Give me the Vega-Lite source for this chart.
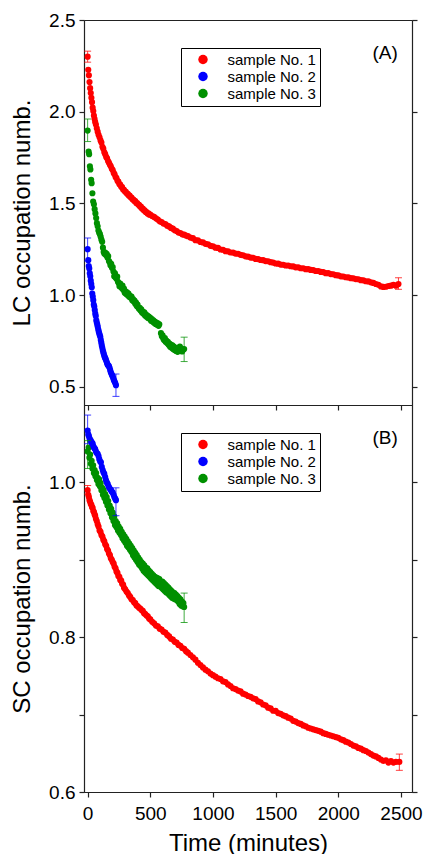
{
"$schema": "https://vega.github.io/schema/vega-lite/v6.json",
"background": "white",
"padding": {"left": 10, "top": 10, "right": 5, "bottom": 0},
"spacing": 0,
"bounds": "flush",
"config": {
  "font": "Liberation Sans",
  "view": {"stroke": "#222", "strokeWidth": 1},
  "axis": {"domainColor": "#222", "tickColor": "#222", "labelColor": "#000", "titleColor": "#000", "labelFont": "Liberation Sans", "titleFont": "Liberation Sans", "labelFontSize": 19, "titleFontSize": 24, "titleFontWeight": "normal", "tickSize": 5, "grid": false, "labelPadding": 4, "labelFlush": false, "domainWidth": 1.2, "tickWidth": 1.2},
  "legend": {"orient": "none", "legendX": 97, "legendY": 28, "strokeColor": "#000", "strokeWidth": 1, "fillColor": "#fff", "padding": 4, "symbolType": "circle", "symbolSize": 90, "symbolStrokeWidth": 0, "symbolOpacity": 1, "labelFontSize": 15, "labelFont": "Liberation Sans", "labelColor": "#000", "labelOffset": 17, "symbolOffset": 10.5, "rowPadding": 1}
},
"datasets": {
"lc": [
{"s":"1","t":0,"v":2.30},{"s":"1","t":5,"v":2.228},{"s":"1","t":10,"v":2.198},{"s":"1","t":15,"v":2.162},{"s":"1","t":20,"v":2.128},{"s":"1","t":25,"v":2.102},{"s":"1","t":30,"v":2.076},{"s":"1","t":35,"v":2.052},{"s":"1","t":40,"v":2.022},{"s":"1","t":45,"v":2.003},{"s":"1","t":50,"v":1.979},{"s":"1","t":55,"v":1.961},{"s":"1","t":60,"v":1.944},{"s":"1","t":66,"v":1.93},{"s":"1","t":73,"v":1.909},{"s":"1","t":80,"v":1.891},{"s":"1","t":87,"v":1.874},{"s":"1","t":95,"v":1.86},{"s":"1","t":103,"v":1.843},{"s":"1","t":110,"v":1.832},{"s":"1","t":118,"v":1.808},{"s":"1","t":125,"v":1.798},{"s":"1","t":133,"v":1.778},{"s":"1","t":140,"v":1.768},{"s":"1","t":148,"v":1.753},{"s":"1","t":155,"v":1.746},{"s":"1","t":163,"v":1.731},{"s":"1","t":170,"v":1.722},{"s":"1","t":178,"v":1.71},{"s":"1","t":185,"v":1.702},{"s":"1","t":193,"v":1.688},{"s":"1","t":200,"v":1.682},{"s":"1","t":208,"v":1.666},{"s":"1","t":215,"v":1.658},{"s":"1","t":223,"v":1.643},{"s":"1","t":230,"v":1.638},{"s":"1","t":238,"v":1.623},{"s":"1","t":245,"v":1.618},{"s":"1","t":253,"v":1.605},{"s":"1","t":260,"v":1.602},{"s":"1","t":268,"v":1.59},{"s":"1","t":275,"v":1.588},{"s":"1","t":283,"v":1.576},{"s":"1","t":290,"v":1.574},{"s":"1","t":298,"v":1.564},{"s":"1","t":305,"v":1.563},{"s":"1","t":313,"v":1.553},{"s":"1","t":320,"v":1.552},{"s":"1","t":328,"v":1.543},{"s":"1","t":335,"v":1.542},{"s":"1","t":343,"v":1.533},{"s":"1","t":350,"v":1.532},{"s":"1","t":358,"v":1.522},{"s":"1","t":365,"v":1.521},{"s":"1","t":373,"v":1.513},{"s":"1","t":380,"v":1.512},{"s":"1","t":388,"v":1.502},{"s":"1","t":395,"v":1.502},{"s":"1","t":403,"v":1.493},{"s":"1","t":410,"v":1.492},{"s":"1","t":418,"v":1.483},{"s":"1","t":425,"v":1.482},{"s":"1","t":433,"v":1.472},{"s":"1","t":440,"v":1.472},{"s":"1","t":448,"v":1.462},{"s":"1","t":455,"v":1.462},{"s":"1","t":463,"v":1.453},{"s":"1","t":470,"v":1.452},{"s":"1","t":478,"v":1.444},{"s":"1","t":485,"v":1.445},{"s":"1","t":493,"v":1.438},{"s":"1","t":500,"v":1.439},{"s":"1","t":515,"v":1.431},{"s":"1","t":530,"v":1.426},{"s":"1","t":545,"v":1.418},{"s":"1","t":560,"v":1.412},{"s":"1","t":575,"v":1.402},{"s":"1","t":590,"v":1.398},{"s":"1","t":605,"v":1.39},{"s":"1","t":620,"v":1.387},{"s":"1","t":635,"v":1.378},{"s":"1","t":650,"v":1.374},{"s":"1","t":665,"v":1.366},{"s":"1","t":680,"v":1.362},{"s":"1","t":695,"v":1.353},{"s":"1","t":710,"v":1.349},{"s":"1","t":725,"v":1.341},{"s":"1","t":740,"v":1.338},{"s":"1","t":755,"v":1.331},{"s":"1","t":770,"v":1.329},{"s":"1","t":785,"v":1.324},{"s":"1","t":800,"v":1.321},{"s":"1","t":820,"v":1.313},{"s":"1","t":840,"v":1.31},{"s":"1","t":860,"v":1.299},{"s":"1","t":880,"v":1.298},{"s":"1","t":900,"v":1.289},{"s":"1","t":920,"v":1.287},{"s":"1","t":940,"v":1.279},{"s":"1","t":960,"v":1.277},{"s":"1","t":980,"v":1.268},{"s":"1","t":1000,"v":1.266},{"s":"1","t":1020,"v":1.258},{"s":"1","t":1040,"v":1.257},{"s":"1","t":1060,"v":1.248},{"s":"1","t":1080,"v":1.247},{"s":"1","t":1100,"v":1.239},{"s":"1","t":1120,"v":1.238},{"s":"1","t":1140,"v":1.232},{"s":"1","t":1160,"v":1.231},{"s":"1","t":1180,"v":1.226},{"s":"1","t":1200,"v":1.225},{"s":"1","t":1220,"v":1.219},{"s":"1","t":1240,"v":1.217},{"s":"1","t":1260,"v":1.211},{"s":"1","t":1280,"v":1.209},{"s":"1","t":1300,"v":1.204},{"s":"1","t":1320,"v":1.203},{"s":"1","t":1340,"v":1.197},{"s":"1","t":1360,"v":1.196},{"s":"1","t":1380,"v":1.191},{"s":"1","t":1400,"v":1.19},{"s":"1","t":1420,"v":1.185},{"s":"1","t":1440,"v":1.184},{"s":"1","t":1460,"v":1.179},{"s":"1","t":1480,"v":1.177},{"s":"1","t":1500,"v":1.172},{"s":"1","t":1520,"v":1.171},{"s":"1","t":1540,"v":1.166},{"s":"1","t":1560,"v":1.165},{"s":"1","t":1580,"v":1.161},{"s":"1","t":1600,"v":1.161},{"s":"1","t":1620,"v":1.157},{"s":"1","t":1640,"v":1.156},{"s":"1","t":1660,"v":1.151},{"s":"1","t":1680,"v":1.151},{"s":"1","t":1700,"v":1.146},{"s":"1","t":1720,"v":1.146},{"s":"1","t":1740,"v":1.141},{"s":"1","t":1760,"v":1.141},{"s":"1","t":1780,"v":1.137},{"s":"1","t":1800,"v":1.136},{"s":"1","t":1820,"v":1.131},{"s":"1","t":1840,"v":1.131},{"s":"1","t":1860,"v":1.126},{"s":"1","t":1880,"v":1.125},{"s":"1","t":1900,"v":1.119},{"s":"1","t":1920,"v":1.119},{"s":"1","t":1940,"v":1.114},{"s":"1","t":1960,"v":1.113},{"s":"1","t":1980,"v":1.108},{"s":"1","t":2000,"v":1.107},{"s":"1","t":2020,"v":1.102},{"s":"1","t":2040,"v":1.101},{"s":"1","t":2060,"v":1.097},{"s":"1","t":2080,"v":1.096},{"s":"1","t":2100,"v":1.092},{"s":"1","t":2120,"v":1.091},{"s":"1","t":2140,"v":1.087},{"s":"1","t":2160,"v":1.086},{"s":"1","t":2180,"v":1.081},{"s":"1","t":2200,"v":1.08},{"s":"1","t":2220,"v":1.075},{"s":"1","t":2240,"v":1.074},{"s":"1","t":2260,"v":1.069},{"s":"1","t":2280,"v":1.066},{"s":"1","t":2300,"v":1.06},{"s":"1","t":2320,"v":1.056},{"s":"1","t":2340,"v":1.047},{"s":"1","t":2360,"v":1.044},{"s":"1","t":2380,"v":1.045},{"s":"1","t":2400,"v":1.049},{"s":"1","t":2420,"v":1.051},{"s":"1","t":2440,"v":1.055},{"s":"1","t":2460,"v":1.051},{"s":"1","t":2480,"v":1.06},
{"s":"3","t":0,"v":1.897},{"s":"3","t":8,"v":1.782},{"s":"3","t":12,"v":1.768},{"s":"3","t":18,"v":1.702},{"s":"3","t":22,"v":1.685},{"s":"3","t":28,"v":1.628},{"s":"3","t":32,"v":1.61},{"s":"3","t":38,"v":1.555},{"s":"3","t":44,"v":1.51},{"s":"3","t":50,"v":1.495},{"s":"3","t":56,"v":1.468},{"s":"3","t":62,"v":1.445},{"s":"3","t":68,"v":1.42},{"s":"3","t":74,"v":1.392},{"s":"3","t":80,"v":1.375},{"s":"3","t":86,"v":1.352},{"s":"3","t":92,"v":1.34},{"s":"3","t":98,"v":1.332},{"s":"3","t":104,"v":1.318},{"s":"3","t":110,"v":1.302},{"s":"3","t":116,"v":1.29},{"s":"3","t":122,"v":1.258},{"s":"3","t":128,"v":1.235},{"s":"3","t":134,"v":1.225},{"s":"3","t":140,"v":1.232},{"s":"3","t":146,"v":1.218},{"s":"3","t":152,"v":1.225},{"s":"3","t":158,"v":1.205},{"s":"3","t":164,"v":1.212},{"s":"3","t":170,"v":1.185},{"s":"3","t":176,"v":1.178},{"s":"3","t":182,"v":1.162},{"s":"3","t":188,"v":1.17},{"s":"3","t":194,"v":1.148},{"s":"3","t":200,"v":1.152},{"s":"3","t":206,"v":1.128},{"s":"3","t":212,"v":1.102},{"s":"3","t":218,"v":1.118},{"s":"3","t":224,"v":1.095},{"s":"3","t":230,"v":1.088},{"s":"3","t":236,"v":1.1},{"s":"3","t":242,"v":1.072},{"s":"3","t":248,"v":1.065},{"s":"3","t":254,"v":1.048},{"s":"3","t":260,"v":1.062},{"s":"3","t":266,"v":1.045},{"s":"3","t":272,"v":1.038},{"s":"3","t":278,"v":1.052},{"s":"3","t":284,"v":1.028},{"s":"3","t":290,"v":1.035},{"s":"3","t":296,"v":1.012},{"s":"3","t":302,"v":1.02},{"s":"3","t":308,"v":1.005},{"s":"3","t":314,"v":1.015},{"s":"3","t":320,"v":0.998},{"s":"3","t":326,"v":1.008},{"s":"3","t":332,"v":0.99},{"s":"3","t":338,"v":0.995},{"s":"3","t":344,"v":0.985},{"s":"3","t":350,"v":0.992},{"s":"3","t":356,"v":0.972},{"s":"3","t":362,"v":0.978},{"s":"3","t":368,"v":0.965},{"s":"3","t":374,"v":0.97},{"s":"3","t":380,"v":0.952},{"s":"3","t":386,"v":0.958},{"s":"3","t":392,"v":0.94},{"s":"3","t":398,"v":0.948},{"s":"3","t":404,"v":0.932},{"s":"3","t":410,"v":0.925},{"s":"3","t":416,"v":0.93},{"s":"3","t":422,"v":0.915},{"s":"3","t":428,"v":0.922},{"s":"3","t":434,"v":0.905},{"s":"3","t":440,"v":0.91},{"s":"3","t":446,"v":0.898},{"s":"3","t":452,"v":0.905},{"s":"3","t":458,"v":0.888},{"s":"3","t":464,"v":0.895},{"s":"3","t":470,"v":0.882},{"s":"3","t":476,"v":0.888},{"s":"3","t":482,"v":0.875},{"s":"3","t":488,"v":0.882},{"s":"3","t":494,"v":0.87},{"s":"3","t":500,"v":0.876},{"s":"3","t":506,"v":0.86},{"s":"3","t":512,"v":0.868},{"s":"3","t":518,"v":0.855},{"s":"3","t":524,"v":0.862},{"s":"3","t":530,"v":0.848},{"s":"3","t":536,"v":0.855},{"s":"3","t":542,"v":0.842},{"s":"3","t":548,"v":0.85},{"s":"3","t":554,"v":0.838},{"s":"3","t":560,"v":0.845},{"s":"3","t":566,"v":0.832},{"s":"3","t":572,"v":0.84},{"s":"3","t":585,"v":0.792},{"s":"3","t":592,"v":0.775},{"s":"3","t":598,"v":0.78},{"s":"3","t":604,"v":0.762},{"s":"3","t":610,"v":0.755},{"s":"3","t":616,"v":0.765},{"s":"3","t":622,"v":0.745},{"s":"3","t":628,"v":0.752},{"s":"3","t":634,"v":0.738},{"s":"3","t":640,"v":0.745},{"s":"3","t":646,"v":0.728},{"s":"3","t":652,"v":0.735},{"s":"3","t":658,"v":0.718},{"s":"3","t":664,"v":0.73},{"s":"3","t":670,"v":0.712},{"s":"3","t":676,"v":0.725},{"s":"3","t":682,"v":0.705},{"s":"3","t":688,"v":0.718},{"s":"3","t":694,"v":0.7},{"s":"3","t":700,"v":0.712},{"s":"3","t":706,"v":0.695},{"s":"3","t":712,"v":0.705},{"s":"3","t":718,"v":0.69},{"s":"3","t":724,"v":0.712},{"s":"3","t":730,"v":0.695},{"s":"3","t":736,"v":0.718},{"s":"3","t":742,"v":0.698},{"s":"3","t":748,"v":0.708},{"s":"3","t":754,"v":0.692},{"s":"3","t":760,"v":0.7},{"s":"3","t":770,"v":0.705},
{"s":"2","t":0,"v":1.25},{"s":"2","t":5,"v":1.19},{"s":"2","t":9,"v":1.158},{"s":"2","t":13,"v":1.145},{"s":"2","t":17,"v":1.118},{"s":"2","t":21,"v":1.102},{"s":"2","t":25,"v":1.078},{"s":"2","t":29,"v":1.06},{"s":"2","t":33,"v":1.042},{"s":"2","t":37,"v":1.008},{"s":"2","t":41,"v":0.992},{"s":"2","t":45,"v":0.972},{"s":"2","t":49,"v":0.948},{"s":"2","t":53,"v":0.937},{"s":"2","t":57,"v":0.918},{"s":"2","t":61,"v":0.898},{"s":"2","t":65,"v":0.885},{"s":"2","t":69,"v":0.862},{"s":"2","t":73,"v":0.85},{"s":"2","t":77,"v":0.838},{"s":"2","t":81,"v":0.826},{"s":"2","t":85,"v":0.812},{"s":"2","t":89,"v":0.8},{"s":"2","t":93,"v":0.79},{"s":"2","t":97,"v":0.78},{"s":"2","t":101,"v":0.772},{"s":"2","t":105,"v":0.755},{"s":"2","t":109,"v":0.74},{"s":"2","t":113,"v":0.725},{"s":"2","t":117,"v":0.712},{"s":"2","t":121,"v":0.698},{"s":"2","t":125,"v":0.688},{"s":"2","t":129,"v":0.678},{"s":"2","t":133,"v":0.668},{"s":"2","t":137,"v":0.66},{"s":"2","t":141,"v":0.655},{"s":"2","t":145,"v":0.648},{"s":"2","t":150,"v":0.638},{"s":"2","t":155,"v":0.628},{"s":"2","t":160,"v":0.62},{"s":"2","t":165,"v":0.615},{"s":"2","t":170,"v":0.612},{"s":"2","t":175,"v":0.603},{"s":"2","t":180,"v":0.59},{"s":"2","t":185,"v":0.578},{"s":"2","t":190,"v":0.57},{"s":"2","t":195,"v":0.562},{"s":"2","t":200,"v":0.556},{"s":"2","t":205,"v":0.545},{"s":"2","t":210,"v":0.535},{"s":"2","t":215,"v":0.528},{"s":"2","t":220,"v":0.52},{"s":"2","t":226,"v":0.508}
],
"sc": [
{"s":"1","t":0,"v":0.99},{"s":"1","t":5,"v":0.984},{"s":"1","t":10,"v":0.981},{"s":"1","t":15,"v":0.977},{"s":"1","t":20,"v":0.975},{"s":"1","t":25,"v":0.972},{"s":"1","t":30,"v":0.971},{"s":"1","t":35,"v":0.968},{"s":"1","t":40,"v":0.967},{"s":"1","t":45,"v":0.963},{"s":"1","t":50,"v":0.962},{"s":"1","t":55,"v":0.959},{"s":"1","t":60,"v":0.957},{"s":"1","t":66,"v":0.953},{"s":"1","t":73,"v":0.95},{"s":"1","t":80,"v":0.946},{"s":"1","t":87,"v":0.943},{"s":"1","t":95,"v":0.938},{"s":"1","t":103,"v":0.936},{"s":"1","t":110,"v":0.932},{"s":"1","t":118,"v":0.93},{"s":"1","t":125,"v":0.926},{"s":"1","t":133,"v":0.924},{"s":"1","t":140,"v":0.92},{"s":"1","t":148,"v":0.918},{"s":"1","t":155,"v":0.914},{"s":"1","t":163,"v":0.912},{"s":"1","t":170,"v":0.908},{"s":"1","t":178,"v":0.906},{"s":"1","t":185,"v":0.902},{"s":"1","t":193,"v":0.9},{"s":"1","t":200,"v":0.897},{"s":"1","t":208,"v":0.895},{"s":"1","t":215,"v":0.891},{"s":"1","t":223,"v":0.889},{"s":"1","t":230,"v":0.885},{"s":"1","t":238,"v":0.883},{"s":"1","t":245,"v":0.879},{"s":"1","t":253,"v":0.878},{"s":"1","t":260,"v":0.874},{"s":"1","t":268,"v":0.873},{"s":"1","t":275,"v":0.869},{"s":"1","t":283,"v":0.868},{"s":"1","t":290,"v":0.864},{"s":"1","t":300,"v":0.862},{"s":"1","t":310,"v":0.859},{"s":"1","t":320,"v":0.857},{"s":"1","t":330,"v":0.854},{"s":"1","t":340,"v":0.852},{"s":"1","t":350,"v":0.849},{"s":"1","t":360,"v":0.848},{"s":"1","t":370,"v":0.845},{"s":"1","t":380,"v":0.844},{"s":"1","t":390,"v":0.841},{"s":"1","t":400,"v":0.84},{"s":"1","t":410,"v":0.838},{"s":"1","t":420,"v":0.837},{"s":"1","t":430,"v":0.835},{"s":"1","t":440,"v":0.834},{"s":"1","t":450,"v":0.831},{"s":"1","t":460,"v":0.83},{"s":"1","t":470,"v":0.828},{"s":"1","t":480,"v":0.827},{"s":"1","t":490,"v":0.824},{"s":"1","t":500,"v":0.823},{"s":"1","t":515,"v":0.82},{"s":"1","t":530,"v":0.818},{"s":"1","t":545,"v":0.815},{"s":"1","t":560,"v":0.814},{"s":"1","t":575,"v":0.811},{"s":"1","t":590,"v":0.81},{"s":"1","t":605,"v":0.807},{"s":"1","t":620,"v":0.806},{"s":"1","t":635,"v":0.803},{"s":"1","t":650,"v":0.801},{"s":"1","t":665,"v":0.798},{"s":"1","t":680,"v":0.797},{"s":"1","t":695,"v":0.794},{"s":"1","t":710,"v":0.793},{"s":"1","t":725,"v":0.79},{"s":"1","t":740,"v":0.789},{"s":"1","t":755,"v":0.786},{"s":"1","t":770,"v":0.785},{"s":"1","t":785,"v":0.782},{"s":"1","t":800,"v":0.78},{"s":"1","t":820,"v":0.777},{"s":"1","t":840,"v":0.774},{"s":"1","t":860,"v":0.771},{"s":"1","t":880,"v":0.767},{"s":"1","t":900,"v":0.764},{"s":"1","t":920,"v":0.761},{"s":"1","t":940,"v":0.758},{"s":"1","t":960,"v":0.756},{"s":"1","t":980,"v":0.753},{"s":"1","t":1000,"v":0.751},{"s":"1","t":1020,"v":0.749},{"s":"1","t":1040,"v":0.747},{"s":"1","t":1060,"v":0.746},{"s":"1","t":1080,"v":0.743},{"s":"1","t":1100,"v":0.742},{"s":"1","t":1120,"v":0.739},{"s":"1","t":1140,"v":0.737},{"s":"1","t":1160,"v":0.734},{"s":"1","t":1180,"v":0.733},{"s":"1","t":1200,"v":0.731},{"s":"1","t":1220,"v":0.73},{"s":"1","t":1240,"v":0.727},{"s":"1","t":1260,"v":0.726},{"s":"1","t":1280,"v":0.724},{"s":"1","t":1300,"v":0.723},{"s":"1","t":1320,"v":0.721},{"s":"1","t":1340,"v":0.72},{"s":"1","t":1360,"v":0.717},{"s":"1","t":1380,"v":0.716},{"s":"1","t":1400,"v":0.713},{"s":"1","t":1420,"v":0.712},{"s":"1","t":1440,"v":0.709},{"s":"1","t":1460,"v":0.708},{"s":"1","t":1480,"v":0.705},{"s":"1","t":1500,"v":0.705},{"s":"1","t":1520,"v":0.702},{"s":"1","t":1540,"v":0.701},{"s":"1","t":1560,"v":0.699},{"s":"1","t":1580,"v":0.698},{"s":"1","t":1600,"v":0.696},{"s":"1","t":1620,"v":0.695},{"s":"1","t":1640,"v":0.692},{"s":"1","t":1660,"v":0.691},{"s":"1","t":1680,"v":0.689},{"s":"1","t":1700,"v":0.688},{"s":"1","t":1720,"v":0.686},{"s":"1","t":1740,"v":0.685},{"s":"1","t":1760,"v":0.683},{"s":"1","t":1780,"v":0.682},{"s":"1","t":1800,"v":0.681},{"s":"1","t":1820,"v":0.68},{"s":"1","t":1840,"v":0.679},{"s":"1","t":1860,"v":0.678},{"s":"1","t":1880,"v":0.676},{"s":"1","t":1900,"v":0.675},{"s":"1","t":1920,"v":0.674},{"s":"1","t":1940,"v":0.673},{"s":"1","t":1960,"v":0.672},{"s":"1","t":1980,"v":0.671},{"s":"1","t":2000,"v":0.67},{"s":"1","t":2020,"v":0.668},{"s":"1","t":2040,"v":0.667},{"s":"1","t":2060,"v":0.665},{"s":"1","t":2080,"v":0.664},{"s":"1","t":2100,"v":0.662},{"s":"1","t":2120,"v":0.66},{"s":"1","t":2140,"v":0.659},{"s":"1","t":2160,"v":0.657},{"s":"1","t":2180,"v":0.656},{"s":"1","t":2200,"v":0.654},{"s":"1","t":2220,"v":0.653},{"s":"1","t":2240,"v":0.651},{"s":"1","t":2260,"v":0.649},{"s":"1","t":2280,"v":0.647},{"s":"1","t":2300,"v":0.646},{"s":"1","t":2320,"v":0.644},{"s":"1","t":2340,"v":0.642},{"s":"1","t":2360,"v":0.64},{"s":"1","t":2380,"v":0.641},{"s":"1","t":2400,"v":0.638},{"s":"1","t":2420,"v":0.64},{"s":"1","t":2440,"v":0.638},{"s":"1","t":2460,"v":0.639},{"s":"1","t":2487,"v":0.639},
{"s":"3","t":0,"v":1.04},{"s":"3","t":8,"v":1.045},{"s":"3","t":14,"v":1.032},{"s":"3","t":20,"v":1.036},{"s":"3","t":26,"v":1.024},{"s":"3","t":32,"v":1.028},{"s":"3","t":38,"v":1.018},{"s":"3","t":44,"v":1.022},{"s":"3","t":50,"v":1.012},{"s":"3","t":56,"v":1.016},{"s":"3","t":62,"v":1.008},{"s":"3","t":68,"v":1.012},{"s":"3","t":74,"v":1.003},{"s":"3","t":80,"v":1.006},{"s":"3","t":86,"v":0.998},{"s":"3","t":92,"v":1.004},{"s":"3","t":98,"v":0.995},{"s":"3","t":104,"v":0.999},{"s":"3","t":110,"v":0.99},{"s":"3","t":116,"v":0.993},{"s":"3","t":122,"v":0.984},{"s":"3","t":128,"v":0.99},{"s":"3","t":134,"v":0.98},{"s":"3","t":140,"v":0.985},{"s":"3","t":146,"v":0.975},{"s":"3","t":152,"v":0.981},{"s":"3","t":158,"v":0.97},{"s":"3","t":164,"v":0.976},{"s":"3","t":170,"v":0.965},{"s":"3","t":176,"v":0.97},{"s":"3","t":182,"v":0.96},{"s":"3","t":188,"v":0.966},{"s":"3","t":194,"v":0.955},{"s":"3","t":200,"v":0.961},{"s":"3","t":206,"v":0.95},{"s":"3","t":212,"v":0.956},{"s":"3","t":218,"v":0.945},{"s":"3","t":224,"v":0.95},{"s":"3","t":230,"v":0.942},{"s":"3","t":236,"v":0.947},{"s":"3","t":242,"v":0.938},{"s":"3","t":248,"v":0.943},{"s":"3","t":254,"v":0.935},{"s":"3","t":260,"v":0.94},{"s":"3","t":266,"v":0.932},{"s":"3","t":272,"v":0.936},{"s":"3","t":278,"v":0.928},{"s":"3","t":284,"v":0.933},{"s":"3","t":290,"v":0.925},{"s":"3","t":296,"v":0.93},{"s":"3","t":302,"v":0.922},{"s":"3","t":308,"v":0.927},{"s":"3","t":314,"v":0.918},{"s":"3","t":320,"v":0.924},{"s":"3","t":326,"v":0.916},{"s":"3","t":332,"v":0.921},{"s":"3","t":338,"v":0.913},{"s":"3","t":344,"v":0.918},{"s":"3","t":350,"v":0.91},{"s":"3","t":356,"v":0.915},{"s":"3","t":362,"v":0.906},{"s":"3","t":368,"v":0.912},{"s":"3","t":374,"v":0.903},{"s":"3","t":380,"v":0.909},{"s":"3","t":386,"v":0.9},{"s":"3","t":392,"v":0.906},{"s":"3","t":398,"v":0.897},{"s":"3","t":404,"v":0.903},{"s":"3","t":410,"v":0.894},{"s":"3","t":416,"v":0.9},{"s":"3","t":422,"v":0.892},{"s":"3","t":428,"v":0.897},{"s":"3","t":434,"v":0.889},{"s":"3","t":440,"v":0.895},{"s":"3","t":446,"v":0.886},{"s":"3","t":452,"v":0.893},{"s":"3","t":458,"v":0.884},{"s":"3","t":464,"v":0.89},{"s":"3","t":470,"v":0.882},{"s":"3","t":476,"v":0.889},{"s":"3","t":482,"v":0.88},{"s":"3","t":488,"v":0.886},{"s":"3","t":494,"v":0.878},{"s":"3","t":500,"v":0.884},{"s":"3","t":506,"v":0.876},{"s":"3","t":512,"v":0.882},{"s":"3","t":518,"v":0.874},{"s":"3","t":524,"v":0.88},{"s":"3","t":530,"v":0.872},{"s":"3","t":536,"v":0.878},{"s":"3","t":542,"v":0.87},{"s":"3","t":548,"v":0.877},{"s":"3","t":554,"v":0.868},{"s":"3","t":560,"v":0.876},{"s":"3","t":566,"v":0.866},{"s":"3","t":572,"v":0.875},{"s":"3","t":578,"v":0.866},{"s":"3","t":584,"v":0.872},{"s":"3","t":590,"v":0.864},{"s":"3","t":596,"v":0.872},{"s":"3","t":602,"v":0.862},{"s":"3","t":608,"v":0.87},{"s":"3","t":614,"v":0.86},{"s":"3","t":620,"v":0.868},{"s":"3","t":626,"v":0.858},{"s":"3","t":632,"v":0.866},{"s":"3","t":638,"v":0.857},{"s":"3","t":644,"v":0.864},{"s":"3","t":650,"v":0.855},{"s":"3","t":656,"v":0.862},{"s":"3","t":662,"v":0.853},{"s":"3","t":668,"v":0.86},{"s":"3","t":674,"v":0.851},{"s":"3","t":680,"v":0.858},{"s":"3","t":686,"v":0.85},{"s":"3","t":692,"v":0.857},{"s":"3","t":698,"v":0.849},{"s":"3","t":704,"v":0.855},{"s":"3","t":710,"v":0.848},{"s":"3","t":716,"v":0.853},{"s":"3","t":722,"v":0.846},{"s":"3","t":728,"v":0.851},{"s":"3","t":734,"v":0.843},{"s":"3","t":740,"v":0.849},{"s":"3","t":746,"v":0.841},{"s":"3","t":752,"v":0.846},{"s":"3","t":758,"v":0.84},{"s":"3","t":764,"v":0.844},{"s":"3","t":770,"v":0.839},
{"s":"2","t":0,"v":1.067},{"s":"2","t":5,"v":1.062},{"s":"2","t":10,"v":1.06},{"s":"2","t":15,"v":1.057},{"s":"2","t":20,"v":1.055},{"s":"2","t":25,"v":1.054},{"s":"2","t":30,"v":1.052},{"s":"2","t":35,"v":1.051},{"s":"2","t":40,"v":1.05},{"s":"2","t":45,"v":1.047},{"s":"2","t":50,"v":1.045},{"s":"2","t":55,"v":1.044},{"s":"2","t":60,"v":1.043},{"s":"2","t":66,"v":1.04},{"s":"2","t":73,"v":1.038},{"s":"2","t":80,"v":1.037},{"s":"2","t":87,"v":1.034},{"s":"2","t":93,"v":1.03},{"s":"2","t":100,"v":1.027},{"s":"2","t":106,"v":1.026},{"s":"2","t":113,"v":1.02},{"s":"2","t":120,"v":1.016},{"s":"2","t":126,"v":1.013},{"s":"2","t":133,"v":1.011},{"s":"2","t":140,"v":1.007},{"s":"2","t":146,"v":1.003},{"s":"2","t":153,"v":1.0},{"s":"2","t":160,"v":0.998},{"s":"2","t":167,"v":0.995},{"s":"2","t":173,"v":0.993},{"s":"2","t":180,"v":0.991},{"s":"2","t":187,"v":0.99},{"s":"2","t":193,"v":0.988},{"s":"2","t":200,"v":0.987},{"s":"2","t":207,"v":0.984},{"s":"2","t":213,"v":0.981},{"s":"2","t":220,"v":0.979},{"s":"2","t":226,"v":0.977}
],
"lcErr": [
{"s":"1","t":0,"lo":2.27,"hi":2.33},{"s":"1","t":2480,"lo":1.031,"hi":1.094},
{"s":"2","t":0,"lo":1.186,"hi":1.311},{"s":"2","t":226,"lo":0.447,"hi":0.569},
{"s":"3","t":0,"lo":1.837,"hi":1.96},{"s":"3","t":770,"lo":0.637,"hi":0.77}
],
"scErr": [
{"s":"1","t":0,"lo":0.985,"hi":0.996},{"s":"1","t":2487,"lo":0.628,"hi":0.649},
{"s":"2","t":0,"lo":1.05,"hi":1.087},{"s":"2","t":226,"lo":0.957,"hi":0.993},
{"s":"3","t":0,"lo":1.018,"hi":1.054},{"s":"3","t":770,"lo":0.819,"hi":0.857}
]
},
"vconcat": [
{
 "width": 328, "height": 385,
 "resolve": {"axis": {"y": "independent"}},
 "layer": [
  {"data": {"name": "lc"}, "mark": {"type": "circle", "size": 38, "opacity": 1},
   "encoding": {
    "x": {"field": "t", "type": "quantitative", "scale": {"domain": [-29, 2588], "nice": false, "zero": false}, "axis": {"values": [0, 500, 1000, 1500, 2000, 2500], "labels": false, "title": null}},
    "y": {"field": "v", "type": "quantitative", "scale": {"domain": [0.4, 2.5], "nice": false, "zero": false}, "axis": {"orient": "left", "values": [0.5, 1, 1.5, 2, 2.5], "format": ".1f", "title": "LC occupation numb.", "titlePadding": 14}},
    "color": {"field": "s", "type": "nominal", "scale": {"domain": ["1", "2", "3"], "range": ["#ff0000", "#0000ff", "#009000"]}, "legend": {"title": null, "labelExpr": "'sample No. ' + datum.label"}}}},
  {"data": {"name": "lcErr"}, "mark": {"type": "rule", "strokeWidth": 1, "opacity": 0.75},
   "encoding": {
    "x": {"field": "t", "type": "quantitative"},
    "y": {"field": "lo", "type": "quantitative", "axis": {"orient": "right", "values": [0.5, 1, 1.5, 2, 2.5], "labels": false, "title": null}},
    "y2": {"field": "hi"},
    "color": {"field": "s", "type": "nominal"}}},
  {"data": {"name": "lcErr"}, "mark": {"type": "tick", "orient": "horizontal", "size": 7, "thickness": 1, "opacity": 0.75},
   "encoding": {
    "x": {"field": "t", "type": "quantitative"},
    "y": {"field": "lo", "type": "quantitative", "axis": null},
    "color": {"field": "s", "type": "nominal"}}},
  {"data": {"name": "lcErr"}, "mark": {"type": "tick", "orient": "horizontal", "size": 7, "thickness": 1, "opacity": 0.75},
   "encoding": {
    "x": {"field": "t", "type": "quantitative"},
    "y": {"field": "hi", "type": "quantitative", "axis": null},
    "color": {"field": "s", "type": "nominal"}}},
  {"data": {"values": [{"t": 2373, "v": 2.32, "lab": "(A)"}]}, "mark": {"type": "text", "fontSize": 19, "font": "Liberation Sans", "color": "#000"},
   "encoding": {
    "x": {"field": "t", "type": "quantitative"},
    "y": {"field": "v", "type": "quantitative", "axis": null},
    "text": {"field": "lab"}}}
 ]
},
{
 "width": 328, "height": 387,
 "resolve": {"axis": {"y": "independent"}},
 "layer": [
  {"data": {"name": "sc"}, "mark": {"type": "circle", "size": 38, "opacity": 1},
   "encoding": {
    "x": {"field": "t", "type": "quantitative", "scale": {"domain": [-29, 2588], "nice": false, "zero": false}, "axis": {"values": [0, 500, 1000, 1500, 2000, 2500], "format": "d", "title": "Time (minutes)", "labelPadding": 7, "titlePadding": 8}},
    "y": {"field": "v", "type": "quantitative", "scale": {"domain": [0.6, 1.1], "nice": false, "zero": false}, "axis": {"orient": "left", "values": [0.6, 0.7, 0.8, 0.9, 1.0], "labelExpr": "datum.value == 0.7 || datum.value == 0.9 ? '' : format(datum.value, '.1f')", "title": "SC occupation numb.", "titlePadding": 14}},
    "color": {"field": "s", "type": "nominal", "scale": {"domain": ["1", "2", "3"], "range": ["#ff0000", "#0000ff", "#009000"]}, "legend": {"title": null, "labelExpr": "'sample No. ' + datum.label"}}}},
  {"data": {"name": "scErr"}, "mark": {"type": "rule", "strokeWidth": 1, "opacity": 0.75},
   "encoding": {
    "x": {"field": "t", "type": "quantitative"},
    "y": {"field": "lo", "type": "quantitative", "axis": {"orient": "right", "values": [0.6, 0.7, 0.8, 0.9, 1.0], "labels": false, "title": null}},
    "y2": {"field": "hi"},
    "color": {"field": "s", "type": "nominal"}}},
  {"data": {"name": "scErr"}, "mark": {"type": "tick", "orient": "horizontal", "size": 7, "thickness": 1, "opacity": 0.75},
   "encoding": {
    "x": {"field": "t", "type": "quantitative"},
    "y": {"field": "lo", "type": "quantitative", "axis": null},
    "color": {"field": "s", "type": "nominal"}}},
  {"data": {"name": "scErr"}, "mark": {"type": "tick", "orient": "horizontal", "size": 7, "thickness": 1, "opacity": 0.75},
   "encoding": {
    "x": {"field": "t", "type": "quantitative"},
    "y": {"field": "hi", "type": "quantitative", "axis": null},
    "color": {"field": "s", "type": "nominal"}}},
  {"data": {"values": [{"t": 2373, "v": 1.058, "lab": "(B)"}]}, "mark": {"type": "text", "fontSize": 19, "font": "Liberation Sans", "color": "#000"},
   "encoding": {
    "x": {"field": "t", "type": "quantitative"},
    "y": {"field": "v", "type": "quantitative", "axis": null},
    "text": {"field": "lab"}}}
 ]
}
],
"resolve": {"legend": {"color": "independent"}}
}
